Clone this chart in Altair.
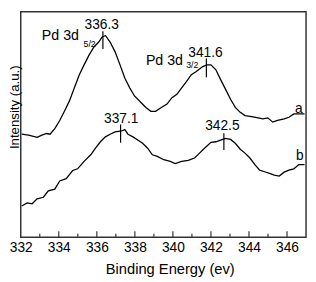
import altair as alt
import pandas as pd

# Curve a (upper spectrum)
energy_a = [332.05, 332.41, 332.86, 333.11, 333.37, 333.54, 333.79, 334.05, 334.31, 334.56,
            334.82, 335.08, 335.33, 335.59, 335.85, 336.10, 336.27, 336.45, 336.70, 336.96,
            337.22, 337.47, 337.73, 337.98, 338.32, 338.58, 338.84, 339.09, 339.35, 339.69,
            339.95, 340.21, 340.46, 340.72, 340.97, 341.23, 341.57, 341.79, 342.00, 342.26,
            342.51, 342.77, 343.03, 343.28, 343.54, 343.79, 344.14, 344.48, 344.73, 344.99,
            345.25, 345.50, 345.85, 346.10, 346.36, 346.62, 346.92]
intensity_a = [106, 105, 102.7, 105, 106.7, 106, 111.7, 120, 130, 140,
               153.3, 166.7, 176.7, 186.7, 195, 200, 205, 206.7, 200, 190,
               176.7, 163.3, 153.3, 145, 138.3, 133.3, 129.3, 129.3, 132.7, 136.7,
               143.3, 146.7, 153.3, 160, 166.7, 170, 175, 176.7, 176.7, 171.7,
               161.7, 151.7, 141.7, 133.3, 128.3, 125, 124, 122.7, 121.7, 122.7,
               118.3, 120, 121.7, 123.3, 126.7, 126.7, 126.7]

# Curve b (lower spectrum)
energy_b = [332.05, 332.34, 332.60, 332.86, 333.19, 333.45, 333.79, 334.05, 334.39, 334.73,
            334.99, 335.33, 335.68, 335.93, 336.19, 336.45, 336.70, 336.96, 337.30, 337.47,
            337.64, 337.90, 338.15, 338.41, 338.67, 338.92, 339.18, 339.52, 339.86, 340.12,
            340.46, 340.81, 341.14, 341.40, 341.66, 341.85, 342.00, 342.26, 342.51, 342.77,
            343.03, 343.28, 343.54, 343.79, 344.05, 344.31, 344.56, 344.82, 345.08, 345.33,
            345.59, 345.85, 346.10, 346.36, 346.62, 346.92]
intensity_b = [32.7, 36, 35, 40, 41.7, 48.3, 50, 58.3, 60.7, 69,
               70.7, 78.3, 85, 91.7, 98.3, 103.3, 106, 108.3, 109.3, 110.7,
               106, 103.3, 100, 96.7, 91.7, 85, 83.3, 80, 78.3, 76,
               78.3, 79.3, 81.7, 86.7, 91.7, 95, 97.7, 98.3, 100, 101.7,
               100.7, 96.7, 90.7, 86.7, 81.7, 75, 69.3, 67.7, 66, 64.3,
               63.3, 67.3, 69.3, 70.7, 75, 75]

# Peak markers
peak_energy = [336.32, 341.76, 337.25, 342.68]
peak_top = [211, 183.3, 116, 107]
peak_bottom = [193, 164, 97.3, 90]
peak_labels = ["336.3", "341.6", "337.1", "342.5"]
peak_label_energy = [336.26, 341.71, 337.28, 342.60]
peak_label_intensity = [213.3, 185, 117.3, 110.7]

# Orbital labels
orb_text = ["Pd 3d", "Pd 3d"]
orb_energy = [333.11, 338.58]
orb_intensity = [201.7, 176.7]
sub_text = ["5/2", "3/2"]
sub_energy = [335.30, 340.70]
sub_intensity = [195, 173.3]

# Curve names
curve_names = ["a", "b"]
curve_name_energy = [346.62, 346.67]
curve_name_intensity = [128, 80]

# Axis ticks
major_ticks = [334, 336, 338, 340, 342, 344, 346]
minor_ticks = [333, 335, 337, 339, 341, 343, 345]
x_label_values = [332, 334, 336, 338, 340, 342, 344, 346]

H = 230
W = 291
FONT = "Liberation Sans"

xscale = alt.Scale(domain=[332, 347], nice=False, zero=False)
yscale = alt.Scale(domain=[1, 231], nice=False, zero=False)

df_a = pd.DataFrame({"E": energy_a, "I": intensity_a})
df_b = pd.DataFrame({"E": energy_b, "I": intensity_b})

xax = alt.X("E:Q", scale=xscale,
            axis=alt.Axis(title="Binding Energy (ev)", values=x_label_values, ticks=False,
                          domain=False, grid=False, labelFont=FONT,
                          labelFontSize=14, labelColor="black", labelPadding=4,
                          titleFont=FONT, titleFontSize=15, titleFontWeight="normal",
                          titleColor="black", titlePadding=7, titleX=152,
                          labelFlush=False, labelOverlap=False))
yax = alt.Y("I:Q", scale=yscale,
            axis=alt.Axis(title="Intensity (a.u.)", labels=False, ticks=False, domain=False,
                          grid=False, titleFont=FONT, titleFontSize=13.5,
                          titleFontWeight="normal", titleColor="black",
                          titleX=-2, titleY=97, titleBaseline="alphabetic",
                          titleAngle=270))

line_a = alt.Chart(df_a).mark_line(color="black", strokeWidth=1.3).encode(x=xax, y=yax)
line_b = alt.Chart(df_b).mark_line(color="black", strokeWidth=1.3).encode(
    x=alt.X("E:Q", scale=xscale), y=alt.Y("I:Q", scale=yscale))

df_peaks = pd.DataFrame({"E": peak_energy, "top": peak_top, "bot": peak_bottom})
peaks = alt.Chart(df_peaks).mark_rule(color="black", strokeWidth=1.2).encode(
    x=alt.X("E:Q", scale=xscale), y=alt.Y("top:Q", scale=yscale), y2="bot:Q")

df_pl = pd.DataFrame({"E": peak_label_energy, "I": peak_label_intensity, "t": peak_labels})
peak_text = alt.Chart(df_pl).mark_text(font=FONT, fontSize=14, color="black",
                                       align="center", baseline="alphabetic").encode(
    x=alt.X("E:Q", scale=xscale), y=alt.Y("I:Q", scale=yscale), text="t:N")

df_orb = pd.DataFrame({"E": orb_energy, "I": orb_intensity, "t": orb_text})
orb = alt.Chart(df_orb).mark_text(font=FONT, fontSize=14.5, color="black",
                                  align="left", baseline="alphabetic").encode(
    x=alt.X("E:Q", scale=xscale), y=alt.Y("I:Q", scale=yscale), text="t:N")

df_sub = pd.DataFrame({"E": sub_energy, "I": sub_intensity, "t": sub_text})
sub = alt.Chart(df_sub).mark_text(font=FONT, fontSize=9, color="black",
                                  align="left", baseline="alphabetic").encode(
    x=alt.X("E:Q", scale=xscale), y=alt.Y("I:Q", scale=yscale), text="t:N")

df_cn = pd.DataFrame({"E": curve_name_energy, "I": curve_name_intensity, "t": curve_names})
cn = alt.Chart(df_cn).mark_text(font=FONT, fontSize=14, color="black",
                                align="center", baseline="alphabetic").encode(
    x=alt.X("E:Q", scale=xscale), y=alt.Y("I:Q", scale=yscale), text="t:N")

df_major = pd.DataFrame({"E": major_ticks})
tick_major = alt.Chart(df_major).mark_rule(color="#333", strokeWidth=1.2).encode(
    x=alt.X("E:Q", scale=xscale), y=alt.value(H), y2=alt.value(H - 6))
df_minor = pd.DataFrame({"E": minor_ticks})
tick_minor = alt.Chart(df_minor).mark_rule(color="#333", strokeWidth=1.2).encode(
    x=alt.X("E:Q", scale=xscale), y=alt.value(H), y2=alt.value(H - 3.5))

chart = alt.layer(line_a, line_b, peaks, peak_text, orb, sub, cn, tick_major, tick_minor).properties(
    width=W, height=H, autosize=alt.AutoSizeParams(type="none"),
    padding={"left": 13, "top": 1, "right": 2, "bottom": 42}
).configure_view(stroke="#333", strokeWidth=1.5)

chart.save("out.html", embed_options={"renderer": "svg", "actions": False})
